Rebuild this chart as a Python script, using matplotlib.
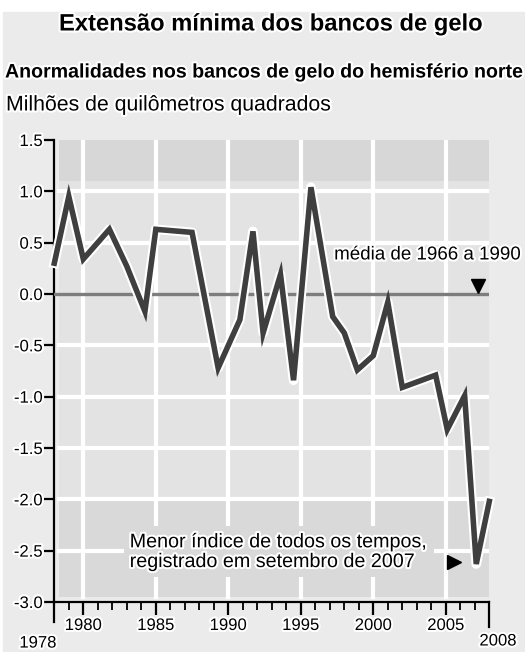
import matplotlib
matplotlib.use('Agg')
import matplotlib.pyplot as plt
import matplotlib.patheffects as pe

plt.rcParams['font.family'] = ['Liberation Sans', 'DejaVu Sans']
plt.rcParams['axes.unicode_minus'] = False

anos = [1978.0, 1979.0, 1980.0, 1981.8, 1983.0, 1984.25, 1985.0, 1987.5, 1989.3, 1990.8,
        1991.7, 1992.4, 1993.6, 1994.5, 1995.7, 1997.2, 1998.0, 1998.9, 2000.0, 2001.0,
        2002.0, 2004.3, 2005.1, 2006.3, 2007.1, 2008.0]
anomalia = [0.30, 0.95, 0.34, 0.63, 0.27, -0.17, 0.63, 0.60, -0.72, -0.25,
            0.61, -0.38, 0.19, -0.84, 1.04, -0.22, -0.38, -0.74, -0.60, -0.08,
            -0.91, -0.79, -1.32, -0.99, -2.63, -2.02]
media = 0.0

yticks = [1.5, 1.0, 0.5, 0.0, -0.5, -1.0, -1.5, -2.0, -2.5, -3.0]
xticks = [1980, 1985, 1990, 1995, 2000, 2005]
anos_todos = list(range(1978, 2009))

titulo = 'Extensão mínima dos bancos de gelo'
subtitulo = 'Anormalidades nos bancos de gelo do hemisfério norte'
unidade = 'Milhões de quilômetros quadrados'
nota_media = 'média de 1966 a 1990'
nota_minimo = 'Menor índice de todos os tempos,\nregistrado em setembro de 2007'

halo = [pe.withStroke(linewidth=3, foreground='white')]

fig = plt.figure(figsize=(5.25, 6.52), dpi=100, facecolor='white')
fig.patches.append(plt.Rectangle((3 / 525, 0), 1, 640 / 652, transform=fig.transFigure,
                                 color='#ebebeb', zorder=-10))

ax = fig.add_axes([54.3 / 525, 50 / 652, 435 / 525, 462 / 652])
ax.set_facecolor('none')
ax.set_xlim(1978, 2008)
ax.set_ylim(-3, 1.5)

# fundo do painel
x0 = 5 / 435
ax.axhspan(-2.95, 1.5, xmin=x0, xmax=1, color='#e3e3e3', lw=0, zorder=0)
ax.axhspan(1.1, 1.5, xmin=x0, xmax=1, color='#d7d7d7', lw=0, zorder=0)
ax.axhspan(-2.95, -2.0, xmin=x0, xmax=1, color='#d9d9d9', lw=0, zorder=0)

# grade branca
for x in xticks:
    ax.axvline(x, ymin=0.05 / 4.5, ymax=1, color='white', lw=3, zorder=1)
for y in yticks[1:-1]:
    if y != 0:
        ax.axhline(y, xmin=x0, xmax=1, color='white', lw=3, zorder=1)

# média
ax.axhline(media, color='#7d7d7d', lw=2.4, zorder=3)

ax.plot(anos, anomalia, color='#3f3f3f', lw=4, zorder=5, solid_joinstyle='miter',
        clip_on=False,
        path_effects=[pe.Stroke(linewidth=7, foreground='white', joinstyle='round'),
                      pe.Normal()])

for s in ['top', 'right']:
    ax.spines[s].set_visible(False)
for s in ['left', 'bottom']:
    ax.spines[s].set_linewidth(1.6)

ax.set_yticks(yticks)
ax.set_yticklabels(['%.1f' % v for v in yticks])
ax.tick_params(axis='y', length=7, width=1.6, labelsize=12, pad=1.5)
ax.set_xticks(xticks)
ax.set_xticks(anos_todos, minor=True)
ax.tick_params(axis='x', which='major', length=9.5, width=1.6, labelsize=12, pad=2)
ax.tick_params(axis='x', which='minor', length=5.5, width=1.3)
for lab in ax.get_xticklabels() + ax.get_yticklabels():
    lab.set_path_effects(halo)

# extremos do eixo x
ax.plot([1978, 1978], [-3, -3.19], color='black', lw=1.6, clip_on=False)
ax.plot([2008, 2008], [-3, -3.24], color='black', lw=1.6, clip_on=False)
ax.text(1978.15, -3.40, '1978', ha='right', va='center', fontsize=12, path_effects=halo)
ax.text(2008.6, -3.38, '2008', ha='center', va='center', fontsize=12, path_effects=halo)

# anotações
ax.text(1997.3, 0.38, nota_media, ha='left', va='center', fontsize=13.5, zorder=6,
        path_effects=halo)
ax.plot([2007.25], [0.08], marker='v', color='black', markersize=10, zorder=6)
ax.text(1983.2, -2.51, nota_minimo, ha='left', va='center', fontsize=14.2, linespacing=1.05,
        zorder=6, path_effects=halo,
        bbox=dict(boxstyle='square,pad=0.3', facecolor='#d9d9d9', edgecolor='none'))
ax.plot([2005.6], [-2.61], marker='>', color='black', markersize=10, zorder=6)

fig.text(271 / 525, 1 - 24 / 652, titulo, ha='center', va='center', fontsize=17.1,
         fontweight='bold', path_effects=halo)
fig.text(5 / 525, 1 - 72 / 652, subtitulo, ha='left', va='center', fontsize=14.1,
         fontweight='bold', path_effects=halo)
fig.text(6 / 525, 1 - 105 / 652, unidade, ha='left', va='center', fontsize=15.3,
         path_effects=halo)

fig.savefig('out.png', dpi=100)
